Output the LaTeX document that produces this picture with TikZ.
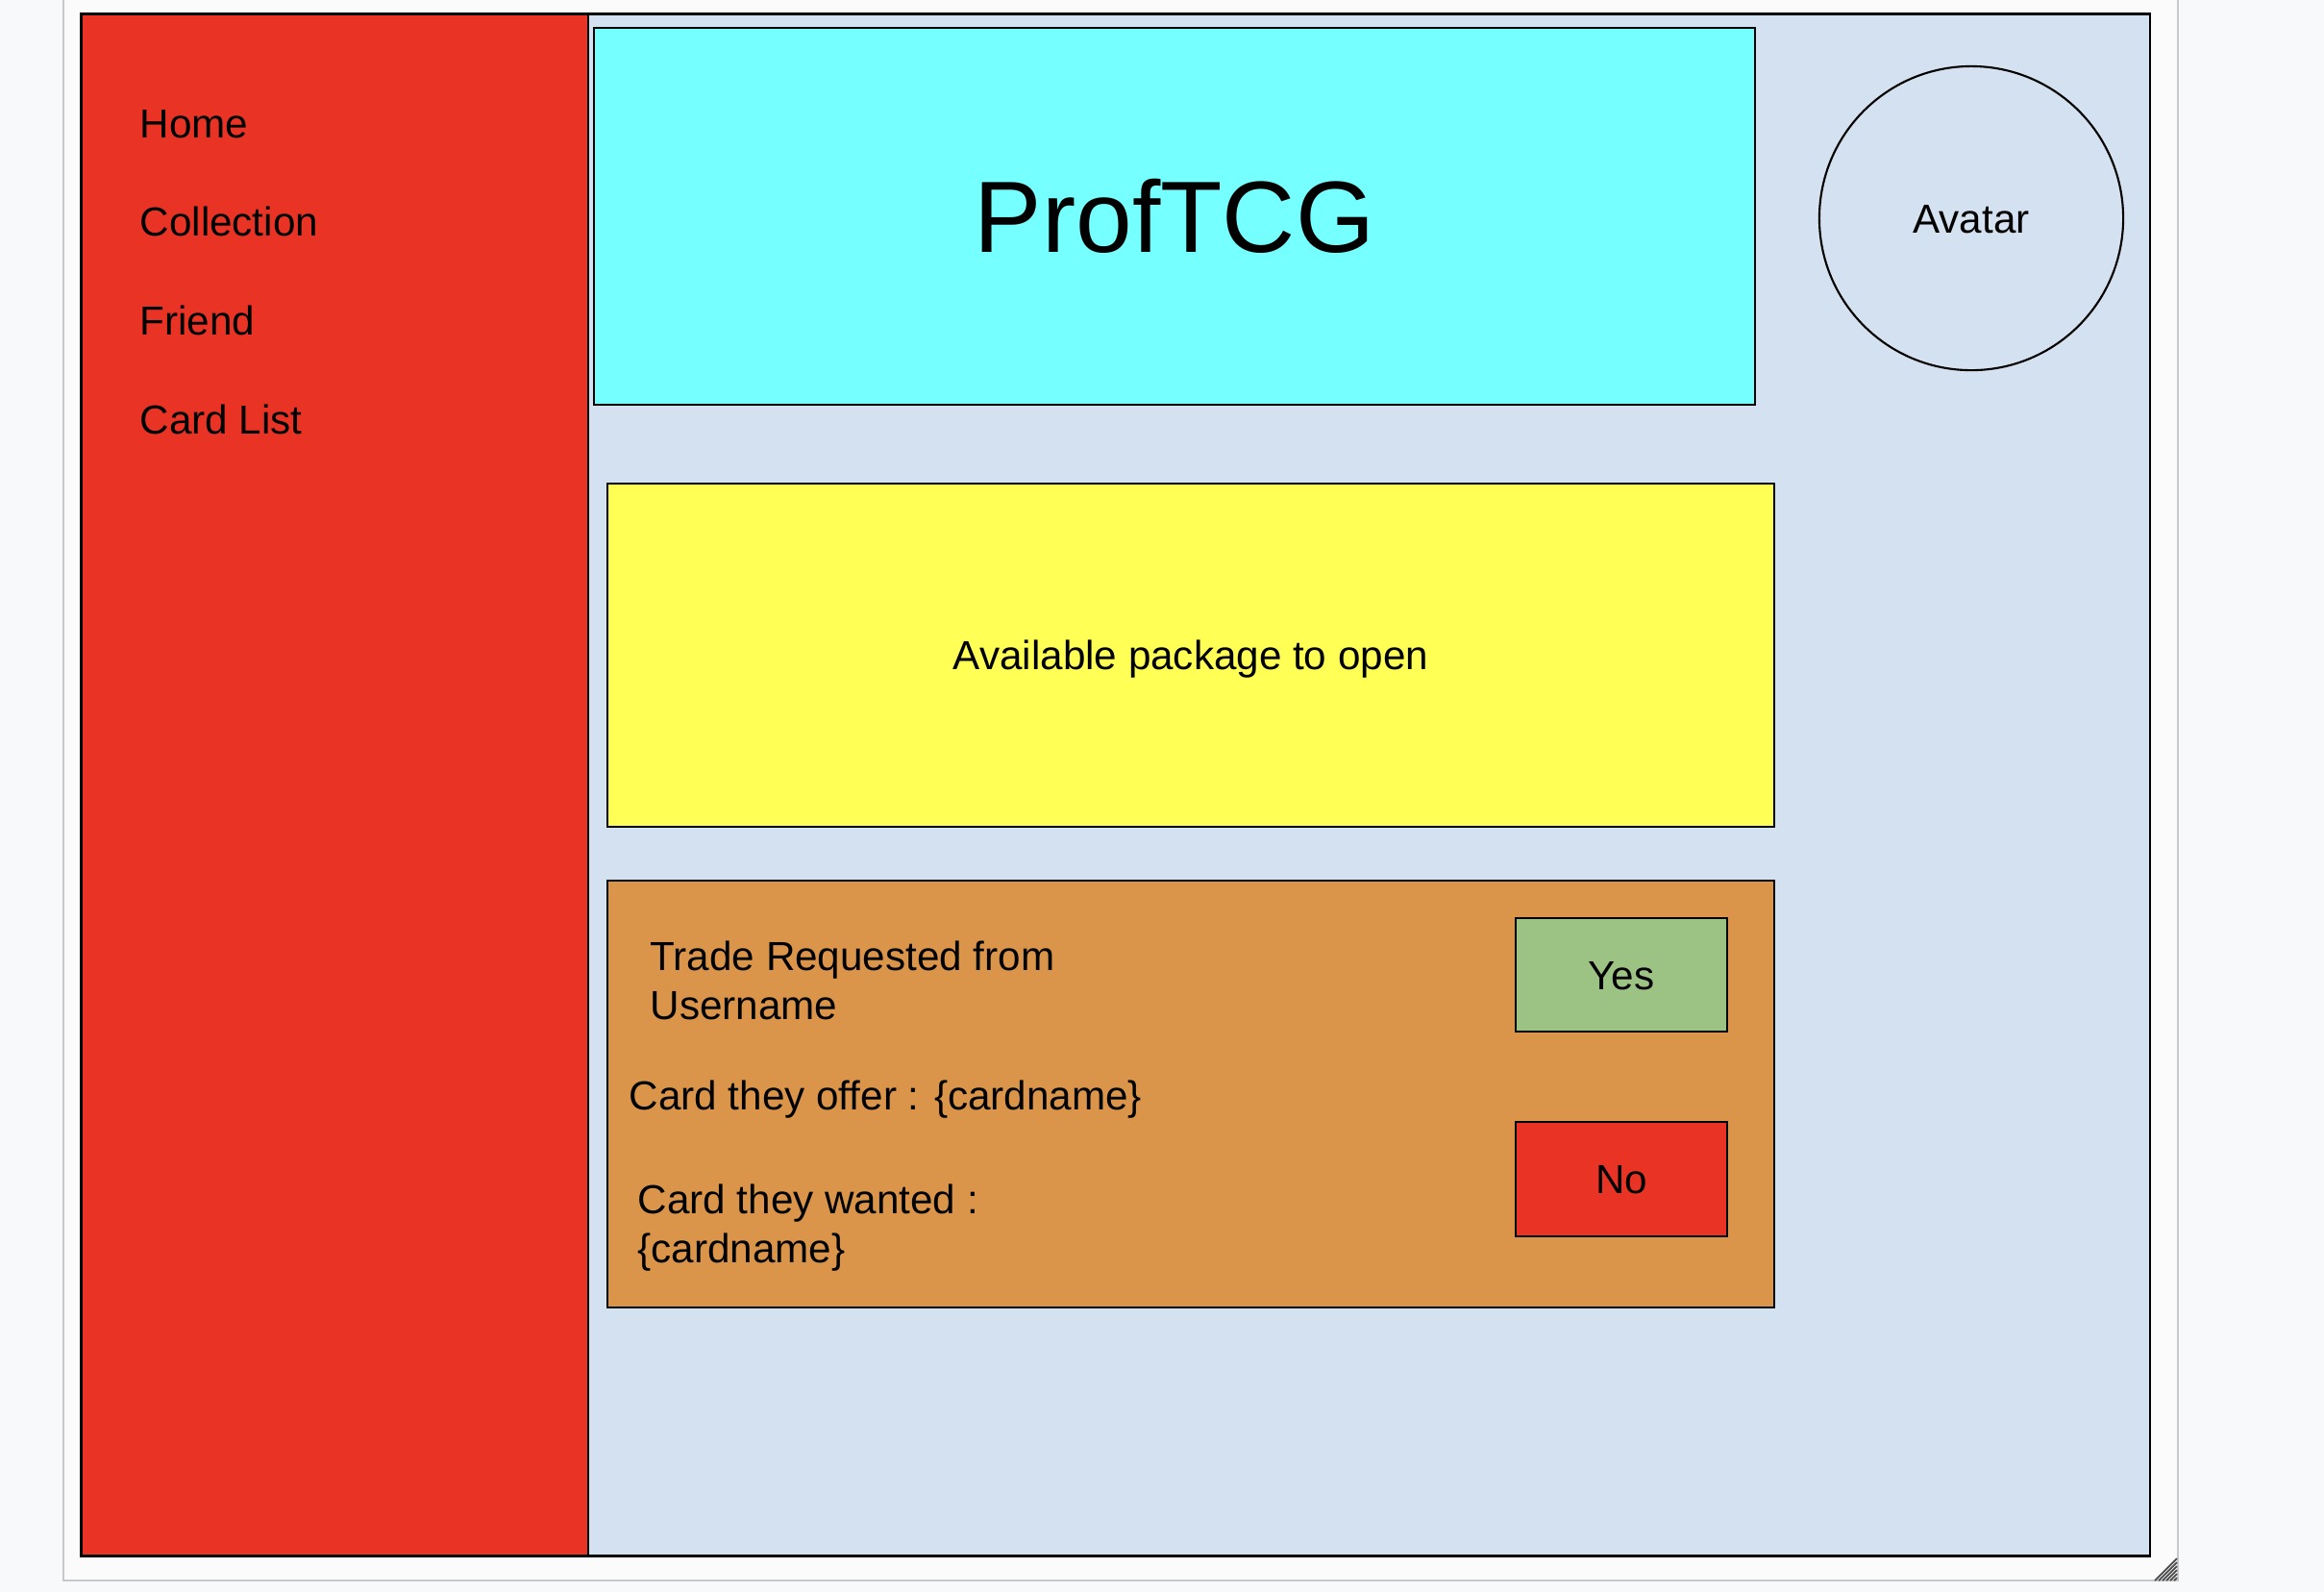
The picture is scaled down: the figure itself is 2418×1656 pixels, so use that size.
\documentclass[tikz,border=0pt]{standalone}
\usepackage{fontspec}
\setmainfont{Liberation Sans}
\usetikzlibrary{positioning}
\definecolor{pagebg}{HTML}{F7F9FB}
\definecolor{canvasbg}{HTML}{FBFBFB}
\definecolor{canvasline}{HTML}{C8C8C8}
\definecolor{mainblue}{HTML}{D4E1F0}
\definecolor{menured}{HTML}{E93425}
\definecolor{titlecyan}{HTML}{76FFFF}
\definecolor{packyellow}{HTML}{FFFF55}
\definecolor{tradeorange}{HTML}{DA954A}
\definecolor{yesgreen}{HTML}{9DC384}
\newcommand{\Fnorm}{\fontsize{12}{14.4}\selectfont}
\tikzstyle{panel} = [rectangle,draw=black,line width=0.6pt,inner sep=0pt,font=\Fnorm,text height=8.6pt,text depth=0pt]
\tikzstyle{menu} = [inner sep=0pt,font=\Fnorm]

\begin{document}
\begin{tikzpicture}[x=0.01cm,y=-0.01cm, txt/.style={inner sep=0pt,font=\Fnorm,align=left}]
\useasboundingbox (0,0) rectangle (2418,1656);
\fill[pagebg] (0,0) rectangle (2418,1656);
\filldraw[fill=canvasbg, draw=canvasline, line width=0.5pt] (66,-5) rectangle (2266,1644);
% resize grip
\draw[black!70, line width=0.5pt] (2242,1644) -- (2265,1621) (2246,1644) -- (2265,1625)
     (2250,1644) -- (2265,1629) (2254,1644) -- (2265,1633) (2258,1644) -- (2265,1637) (2262,1644) -- (2265,1641);

% Define nodes
\node[panel, fill=mainblue, minimum width=21.51cm, minimum height=16.03cm]  (frame) at (1160.5,816.5) {};
\node[panel, fill=menured, minimum width=5.27cm, minimum height=16.03cm]    (menu)  at (348.5,816.5)  {};
\node[panel, fill=titlecyan, minimum width=12.08cm, minimum height=3.92cm,
      font=\fontsize{30}{36}\selectfont, text height=21.5pt]                 (title) at (1222,225)     {ProfTCG};
\node[panel, circle, minimum size=3.16cm]                                   (avatar) at (2051,227)    {Avatar};
\node[panel, fill=packyellow, minimum width=12.14cm, minimum height=3.57cm] (pack)  at (1239,681.5)  {Available package to open};
\node[panel, fill=tradeorange, minimum width=12.14cm, minimum height=4.44cm] (trade) at (1239,1138)  {};
\node[panel, fill=yesgreen, minimum width=2.2cm, minimum height=1.18cm]     (yes)   at (1687,1014)   {Yes};
\node[panel, fill=menured, minimum width=2.2cm, minimum height=1.19cm]      (no)    at (1687,1226.5) {No};

% Menu entries
\node[menu, anchor=base west]                                       (home)       at (145,143) {Home};
\node[menu, below=1.027cm of home.base west, anchor=base west]       (collection) {Collection};
\node[menu, below=1.027cm of collection.base west, anchor=base west] (friend)     {Friend};
\node[menu, below=1.027cm of friend.base west, anchor=base west]     (cardlist)   {Card List};

% Trade request texts (base = last line)
\node[txt, anchor=base west] (request) at (676,1060) {Trade Requested from\\Username};
\node[txt, anchor=base west] (offer)   at (654,1154) {Card they offer : \{cardname\}};
\node[txt, anchor=base west] (wanted)  at (663,1313) {Card they wanted :\\\{cardname\}};
\end{tikzpicture}
\end{document}
